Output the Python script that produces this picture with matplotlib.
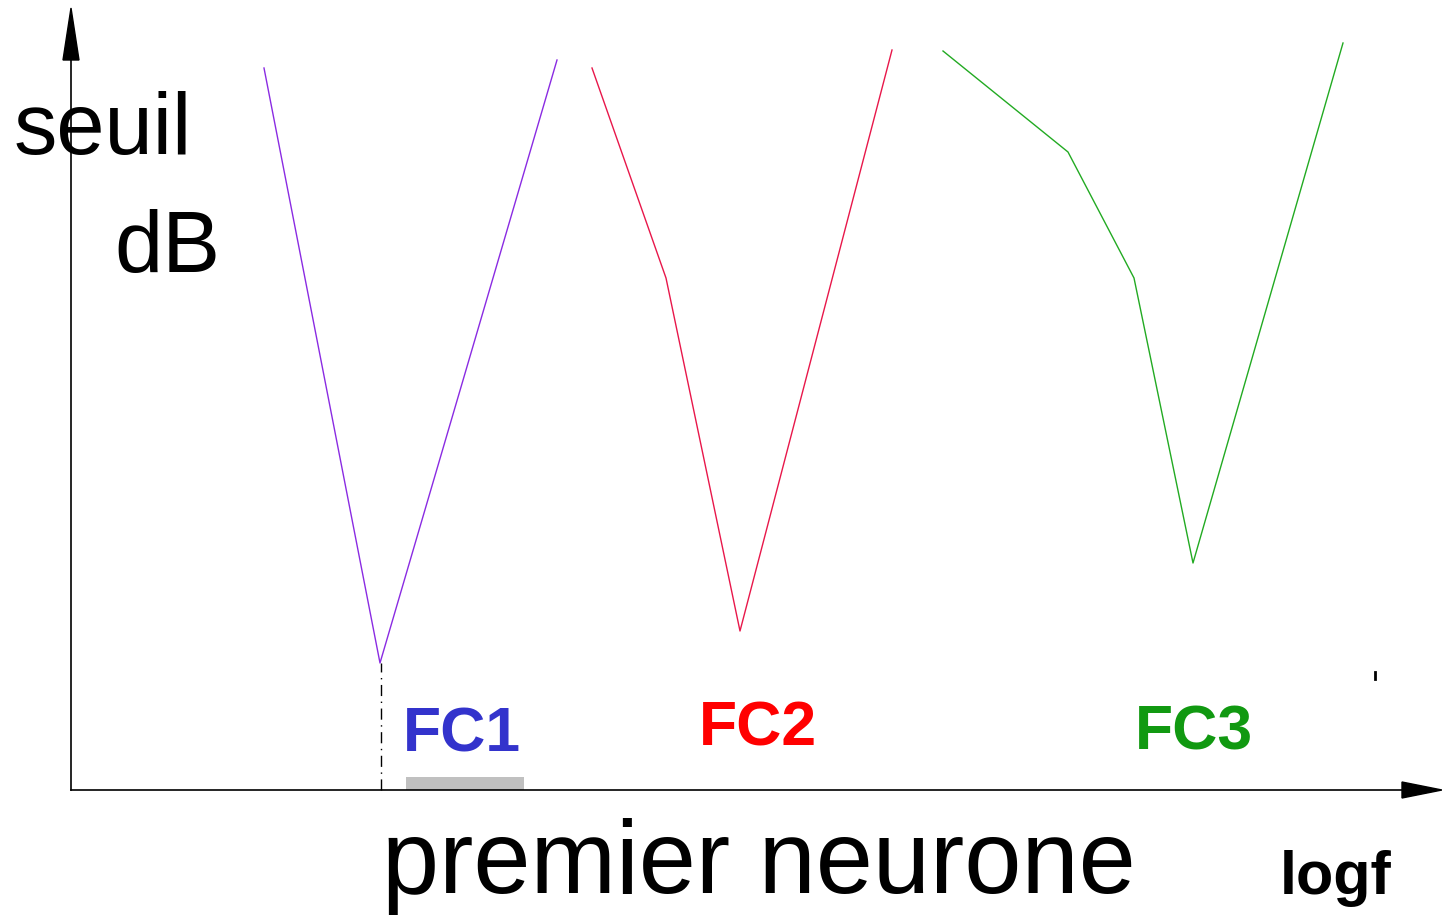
import matplotlib
matplotlib.use("Agg")
import matplotlib.pyplot as plt
from matplotlib.patches import Polygon, Rectangle

plt.rcParams['font.family'] = ['Liberation Sans', 'DejaVu Sans']

# Tuning curves of three fibres: (log frequency, threshold) vertices
fc1_logf = [193, 309, 486]
fc1_seuil = [722, 127, 730]
fc2_logf = [521, 595, 669, 821]
fc2_seuil = [722, 512, 159, 740]
fc3_logf = [872, 997, 1063, 1122, 1272]
fc3_seuil = [739, 638, 512, 227, 747]

labels = ["FC1", "FC2", "FC3"]
label_colors = ["#3333cc", "#ff0000", "#119911"]

fig = plt.figure(figsize=(14.42, 9.15), dpi=100)
ax = fig.add_axes([0, 0, 1, 1])
ax.set_xlim(-71, 1371)
ax.set_ylim(-125, 790)
ax.axis('off')

# axes with arrow heads
ax.plot([0, 1335], [0, 0], color='black', lw=1.2)
ax.plot([0, 0], [0, 730], color='black', lw=1.2)
ax.add_patch(Polygon([[-8, 730], [8, 730], [0, 782]], closed=True, color='black'))
ax.add_patch(Polygon([[1331, -8], [1331, 8], [1371, 0]], closed=True, color='black'))

# threshold curves
ax.plot(fc1_logf, fc1_seuil, color='#8a2be2', lw=1)
ax.plot(fc2_logf, fc2_seuil, color='#e8174a', lw=1)
ax.plot(fc3_logf, fc3_seuil, color='#22aa22', lw=1)

# characteristic frequency marker of the first fibre
ax.plot([fc1_logf[1] + 1, fc1_logf[1] + 1], [0, fc1_seuil[1]], color='black',
        lw=1, dashes=[8, 4, 1, 4])
ax.add_patch(Rectangle((335, 0), 118, 13, color='#c0c0c0', lw=0))
ax.plot([1304, 1304], [111, 118], color='black', lw=2)

# labels
ax.text(-57, 636, "seuil", fontsize=62.5, ha='left', va='baseline')
ax.text(43, 518, "dB", fontsize=62.5, ha='left', va='baseline')
ax.text(311, -103, "premier neurone", fontsize=74, ha='left', va='baseline')
ax.text(1209, -104, "logf", fontsize=44, fontweight='bold', ha='left', va='baseline')

for x, y, s, c in zip([332, 628, 1064], [38, 45, 41], labels, label_colors):
    ax.text(x, y, s, fontsize=45, fontweight='bold', color=c, ha='left', va='baseline')

fig.savefig("out.png", dpi=100)
